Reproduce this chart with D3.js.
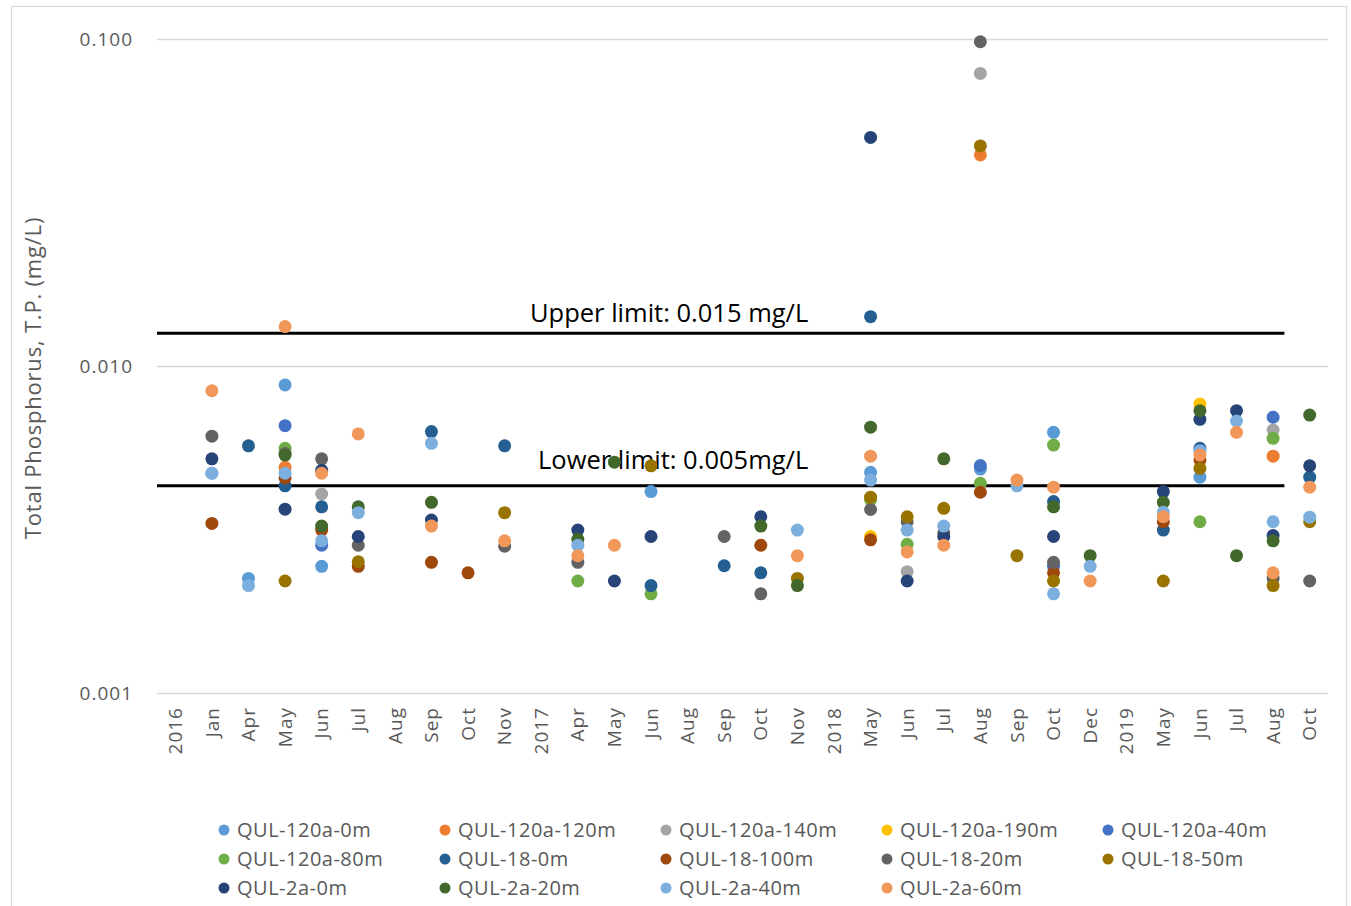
<!DOCTYPE html>
<html>
<head>
<meta charset="utf-8">
<script src="https://cdn.jsdelivr.net/npm/d3@7"></script>
<style>
  body { margin: 0; background: #fff; }
  svg text { font-family: "Open Sans", "Noto Sans", sans-serif; }
  .grid line { stroke: #d9d9d9; stroke-width: 1.3; }
  .grid text { fill: #595959; font-size: 19px; letter-spacing: 1px; }
  .xaxis text { fill: #595959; font-size: 19px; letter-spacing: 1px; }
  .legend text { fill: #595959; font-size: 20px; letter-spacing: 0.5px; }
</style>
</head>
<body>
<div id="chart"></div>
<script>
// sampling dates (unique keys) and the labels shown on the axis
var catKeys = ["2016", "2016-01", "2016-04", "2016-05", "2016-06", "2016-07", "2016-08", "2016-09", "2016-10", "2016-11",
  "2017", "2017-04", "2017-05", "2017-06", "2017-08", "2017-09", "2017-10", "2017-11",
  "2018", "2018-05", "2018-06", "2018-07", "2018-08", "2018-09", "2018-10", "2018-12",
  "2019", "2019-05", "2019-06", "2019-07", "2019-08", "2019-10"];
var catLabels = ["2016", "Jan", "Apr", "May", "Jun", "Jul", "Aug", "Sep", "Oct", "Nov",
  "2017", "Apr", "May", "Jun", "Aug", "Sep", "Oct", "Nov",
  "2018", "May", "Jun", "Jul", "Aug", "Sep", "Oct", "Dec",
  "2019", "May", "Jun", "Jul", "Aug", "Oct"];

var yTicks = [0.001, 0.01, 0.1];
var upperLimit = 0.0126;
var lowerLimit = 0.0043;

// one array per station/depth: [date key, T.P. mg/L]
var q120a_0m = [["2016-01", 0.0047], ["2016-04", 0.00224], ["2016-05", 0.00875], ["2016-06", 0.00244],
  ["2017-06", 0.00413], ["2018-05", 0.00473], ["2018-08", 0.00484], ["2018-10", 0.00627], ["2019-06", 0.00457]];
var q120a_120m = [["2016-05", 0.0049], ["2018-08", 0.0442], ["2019-08", 0.0053]];
var q120a_140m = [["2016-06", 0.00406], ["2018-06", 0.00235], ["2018-08", 0.0785], ["2019-08", 0.00637]];
var q120a_190m = [["2018-05", 0.00301], ["2019-06", 0.00765]];
var q120a_40m = [["2016-05", 0.00657], ["2016-06", 0.00283], ["2018-08", 0.00496], ["2018-10", 0.00244], ["2019-08", 0.00697]];
var q120a_80m = [["2016-05", 0.0056], ["2017-04", 0.0022], ["2017-06", 0.00201], ["2018-05", 0.0039], ["2018-06", 0.00285],
  ["2018-08", 0.00438], ["2018-10", 0.00573], ["2019-06", 0.00334], ["2019-08", 0.00601]];
var q18_0m = [["2016-04", 0.0057], ["2016-05", 0.0043], ["2016-06", 0.00371], ["2016-09", 0.0063], ["2016-11", 0.0057],
  ["2017-06", 0.00213], ["2017-09", 0.00245], ["2017-10", 0.00233], ["2018-05", 0.01415], ["2018-10", 0.00385],
  ["2019-05", 0.00315], ["2019-06", 0.0056], ["2019-10", 0.00457]];
var q18_100m = [["2016-01", 0.0033], ["2016-05", 0.00455], ["2016-06", 0.00315], ["2016-07", 0.00244], ["2016-09", 0.00251],
  ["2016-10", 0.00233], ["2017-10", 0.00283], ["2018-05", 0.00294], ["2018-08", 0.00411], ["2018-10", 0.00233],
  ["2019-05", 0.00334], ["2019-06", 0.00516]];
var q18_20m = [["2016-01", 0.0061], ["2016-05", 0.0054], ["2016-06", 0.0052], ["2016-07", 0.00283], ["2016-11", 0.00281],
  ["2017-04", 0.00251], ["2017-09", 0.00301], ["2017-10", 0.00201], ["2018-05", 0.00364], ["2018-06", 0.00334],
  ["2018-07", 0.00309], ["2018-08", 0.0981], ["2018-10", 0.00251], ["2019-08", 0.00224], ["2019-10", 0.0022]];
var q18_50m = [["2016-05", 0.0022], ["2016-07", 0.00252], ["2016-11", 0.00356], ["2017-06", 0.00495], ["2017-11", 0.00224],
  ["2018-05", 0.00397], ["2018-06", 0.00346], ["2018-07", 0.00367], ["2018-08", 0.0471], ["2018-09", 0.00263],
  ["2018-10", 0.0022], ["2019-05", 0.0022], ["2019-06", 0.00486], ["2019-08", 0.00213], ["2019-10", 0.00334]];
var q2a_0m = [["2016-01", 0.0052], ["2016-05", 0.00365], ["2016-06", 0.0048], ["2016-07", 0.00301], ["2016-09", 0.00338],
  ["2017-04", 0.00315], ["2017-05", 0.0022], ["2017-06", 0.00301], ["2017-10", 0.00346], ["2018-05", 0.05],
  ["2018-06", 0.0022], ["2018-07", 0.00301], ["2018-10", 0.00301], ["2019-05", 0.00413], ["2019-06", 0.00687],
  ["2019-07", 0.0073], ["2019-08", 0.00303], ["2019-10", 0.00495]];
var q2a_20m = [["2016-05", 0.00534], ["2016-06", 0.00324], ["2016-07", 0.00371], ["2016-09", 0.00383], ["2017-04", 0.00295],
  ["2017-05", 0.00508], ["2017-10", 0.00324], ["2017-11", 0.00213], ["2018-05", 0.0065], ["2018-07", 0.0052],
  ["2018-10", 0.00371], ["2018-12", 0.00263], ["2019-05", 0.00383], ["2019-06", 0.0073], ["2019-07", 0.00263],
  ["2019-08", 0.00292], ["2019-10", 0.00708]];
var q2a_40m = [["2016-01", 0.0047], ["2016-04", 0.00213], ["2016-05", 0.0047], ["2016-06", 0.00292], ["2016-07", 0.00356],
  ["2016-09", 0.0058], ["2017-04", 0.00283], ["2017-11", 0.00315], ["2018-05", 0.00448], ["2018-06", 0.00315],
  ["2018-07", 0.00324], ["2018-09", 0.0043], ["2018-10", 0.00201], ["2018-12", 0.00244], ["2019-05", 0.00357],
  ["2019-06", 0.00551], ["2019-07", 0.00679], ["2019-08", 0.00334], ["2019-10", 0.00345]];
var q2a_60m = [["2016-01", 0.0084], ["2016-05", 0.0132], ["2016-06", 0.0047], ["2016-07", 0.0062], ["2016-09", 0.00324],
  ["2016-11", 0.00292], ["2017-04", 0.00263], ["2017-05", 0.00283], ["2017-11", 0.00263], ["2018-05", 0.0053],
  ["2018-06", 0.0027], ["2018-07", 0.00283], ["2018-09", 0.00448], ["2018-10", 0.00426], ["2018-12", 0.0022],
  ["2019-05", 0.00346], ["2019-06", 0.00534], ["2019-07", 0.00627], ["2019-08", 0.00233], ["2019-10", 0.00426]];

var seriesNames = ["QUL-120a-0m", "QUL-120a-120m", "QUL-120a-140m", "QUL-120a-190m", "QUL-120a-40m",
  "QUL-120a-80m", "QUL-18-0m", "QUL-18-100m", "QUL-18-20m", "QUL-18-50m",
  "QUL-2a-0m", "QUL-2a-20m", "QUL-2a-40m", "QUL-2a-60m"];
var seriesValues = [q120a_0m, q120a_120m, q120a_140m, q120a_190m, q120a_40m, q120a_80m,
  q18_0m, q18_100m, q18_20m, q18_50m, q2a_0m, q2a_20m, q2a_40m, q2a_60m];
var seriesColors = ["#5b9bd5", "#ed7d31", "#a5a5a5", "#ffc000", "#4472c4", "#70ad47",
  "#255e91", "#9e480e", "#636363", "#997300", "#264478", "#43682b", "#7cafdd", "#f1975a"];

var width = 1351, height = 906;
var margin = { top: 39, right: 23, bottom: 213, left: 157 };

var svg = d3.select("#chart")
  .append("svg")
  .attr("width", width)
  .attr("height", height);

// outer chart border
svg.append("rect")
  .attr("x", 11.5)
  .attr("y", 6.5)
  .attr("width", 1335)
  .attr("height", 920)
  .attr("fill", "none")
  .attr("stroke", "#d9d9d9")
  .attr("stroke-width", 1.3);

var xScale = d3.scaleBand()
  .domain(catKeys)
  .range([margin.left, width - margin.right])
  .paddingInner(0)
  .paddingOuter(0);

var yScale = d3.scaleLog()
  .domain([0.001, 0.1])
  .range([height - margin.bottom, margin.top]);

// y gridlines + labels
svg.append("g")
  .attr("class", "grid")
  .attr("transform", "translate(" + margin.left + ",0)")
  .call(d3.axisLeft(yScale)
    .tickValues(yTicks)
    .tickFormat(d3.format(".3f"))
    .tickSize(-(width - margin.left - margin.right))
    .tickPadding(24))
  .call(function(g) { g.select(".domain").remove(); });

// x labels, rotated
svg.append("g")
  .attr("class", "xaxis")
  .attr("transform", "translate(0," + (height - margin.bottom) + ")")
  .call(d3.axisBottom(xScale)
    .tickSize(0)
    .tickFormat(function(d, i) { return catLabels[i]; }))
  .call(function(g) { g.select(".domain").remove(); })
  .selectAll("text")
  .attr("transform", "rotate(-90)")
  .attr("x", -14)
  .attr("y", 0)
  .attr("dy", ".35em")
  .style("text-anchor", "end");

// y axis title
svg.append("text")
  .attr("transform", "rotate(-90)")
  .attr("x", -378)
  .attr("y", 41)
  .attr("text-anchor", "middle")
  .style("font-size", "22px")
  .style("letter-spacing", "0.8px")
  .style("fill", "#595959")
  .text("Total Phosphorus, T.P. (mg/L)");

// limit lines
var limitX1 = margin.left;
var limitX2 = xScale(catKeys[catKeys.length - 1]) - 7;

svg.append("line")
  .attr("x1", limitX1).attr("x2", limitX2)
  .attr("y1", yScale(upperLimit)).attr("y2", yScale(upperLimit))
  .attr("stroke", "#000").attr("stroke-width", 3);

svg.append("line")
  .attr("x1", limitX1).attr("x2", limitX2)
  .attr("y1", yScale(lowerLimit)).attr("y2", yScale(lowerLimit))
  .attr("stroke", "#000").attr("stroke-width", 3);

svg.append("text")
  .attr("x", 530)
  .attr("y", 322)
  .style("font-size", "25.5px")
  .style("fill", "#000")
  .text("Upper limit: 0.015 mg/L");

svg.append("text")
  .attr("x", 538)
  .attr("y", 469)
  .style("font-size", "25.5px")
  .style("fill", "#000")
  .text("Lower limit: 0.005mg/L");

// points, series in legend order (last on top)
seriesValues.forEach(function(vals, s) {
  svg.append("g")
    .selectAll(".dot")
    .data(vals)
    .enter().append("circle")
    .attr("class", "dot")
    .attr("cx", function(d) { return xScale(d[0]) + xScale.bandwidth() / 2; })
    .attr("cy", function(d) { return yScale(d[1]); })
    .attr("r", 6.5)
    .attr("fill", seriesColors[s]);
});

// legend
var legend = svg.append("g").attr("class", "legend");
seriesNames.forEach(function(name, i) {
  var col = i % 5, row = Math.floor(i / 5);
  var g = legend.append("g")
    .attr("transform", "translate(" + (224 + col * 221) + "," + (830 + row * 29) + ")");
  g.append("circle").attr("r", 5.5).attr("fill", seriesColors[i]);
  g.append("text").attr("x", 13).attr("dy", ".35em").text(name);
});
</script>
</body>
</html>
